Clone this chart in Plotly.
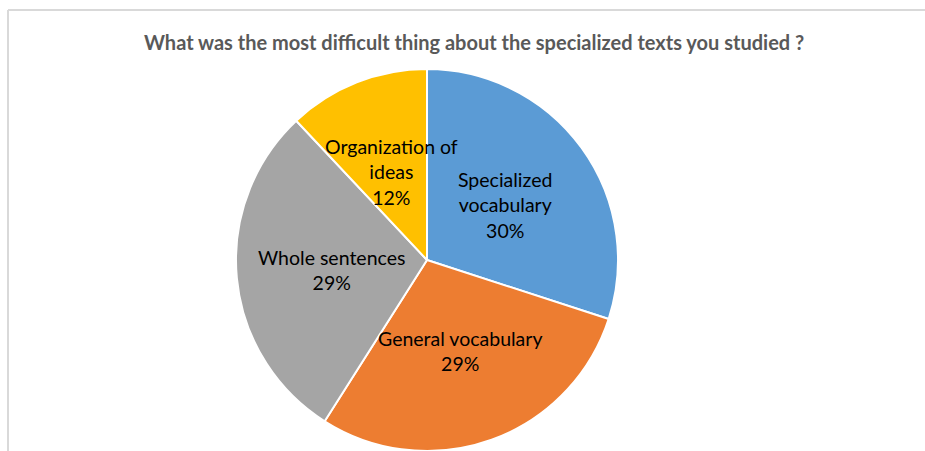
import math
import plotly.graph_objects as go

categories = ["Specialized<br>vocabulary", "General vocabulary", "Whole sentences", "Organization of<br>ideas"]
values = [30, 29, 29, 12]
colors = ["#5B9BD5", "#ED7D31", "#A5A5A5", "#FFC000"]
title_text = "What was the most difficult thing about the specialized texts you studied ?"

W, H = 925, 451
cx_px, cy_px, R = 427, 261, 192
top_m = cy_px - R
plot_h = H - top_m

dom_x = [(cx_px - R) / W, (cx_px + R) / W]
FONT = "Lato, Carlito, Calibri, sans-serif"

fig = go.Figure(go.Pie(
    labels=[c.replace("<br>", " ") for c in categories],
    values=values,
    marker=dict(colors=colors, line=dict(color="white", width=2)),
    sort=False,
    direction="clockwise",
    rotation=0,
    textinfo="none",
    hoverinfo="label+percent",
    showlegend=False,
    domain=dict(x=dom_x, y=[0, 1]),
))

# data labels at half radius, mid-angle of each slice (derived from values)
total = sum(values)
cum = 0
annotations = []
for cat, v in zip(categories, values):
    mid = (cum + v / 2) / total * 2 * math.pi
    cum += v
    px = cx_px + 0.5 * R * math.sin(mid)
    py = cy_px - 0.5 * R * math.cos(mid)
    pct = round(v / total * 100)
    annotations.append(dict(
        x=px / W, y=(H - py) / plot_h, xref="paper", yref="paper",
        text=f"{cat}<br>{pct}%", showarrow=False,
        font=dict(family=FONT, size=19.5, color="#000000"),
        align="center", xanchor="center", yanchor="middle",
    ))

annotations.append(dict(
    x=474 / W, y=(H - 42) / plot_h, xref="paper", yref="paper",
    text=f"<b>{title_text}</b>", showarrow=False,
    font=dict(family=FONT, size=20, color="#595959"),
    xanchor="center", yanchor="middle",
))

shapes = [
    dict(type="line", xref="paper", yref="paper", x0=8 / W, x1=1.0, y0=(H - 10) / plot_h, y1=(H - 10) / plot_h,
         line=dict(color="#D9D9D9", width=2)),
    dict(type="line", xref="paper", yref="paper", x0=8 / W, x1=8 / W, y0=(H - 10) / plot_h, y1=0,
         line=dict(color="#D9D9D9", width=2)),
]

fig.update_layout(
    width=W, height=H,
    margin=dict(l=0, r=0, t=top_m, b=0),
    paper_bgcolor="white", plot_bgcolor="white",
    annotations=annotations, shapes=shapes,
)

fig.write_html(
    "out.html",
    config={"displayModeBar": False},
    post_script="document.body.style.margin='0';document.body.style.overflow='hidden';",
)
